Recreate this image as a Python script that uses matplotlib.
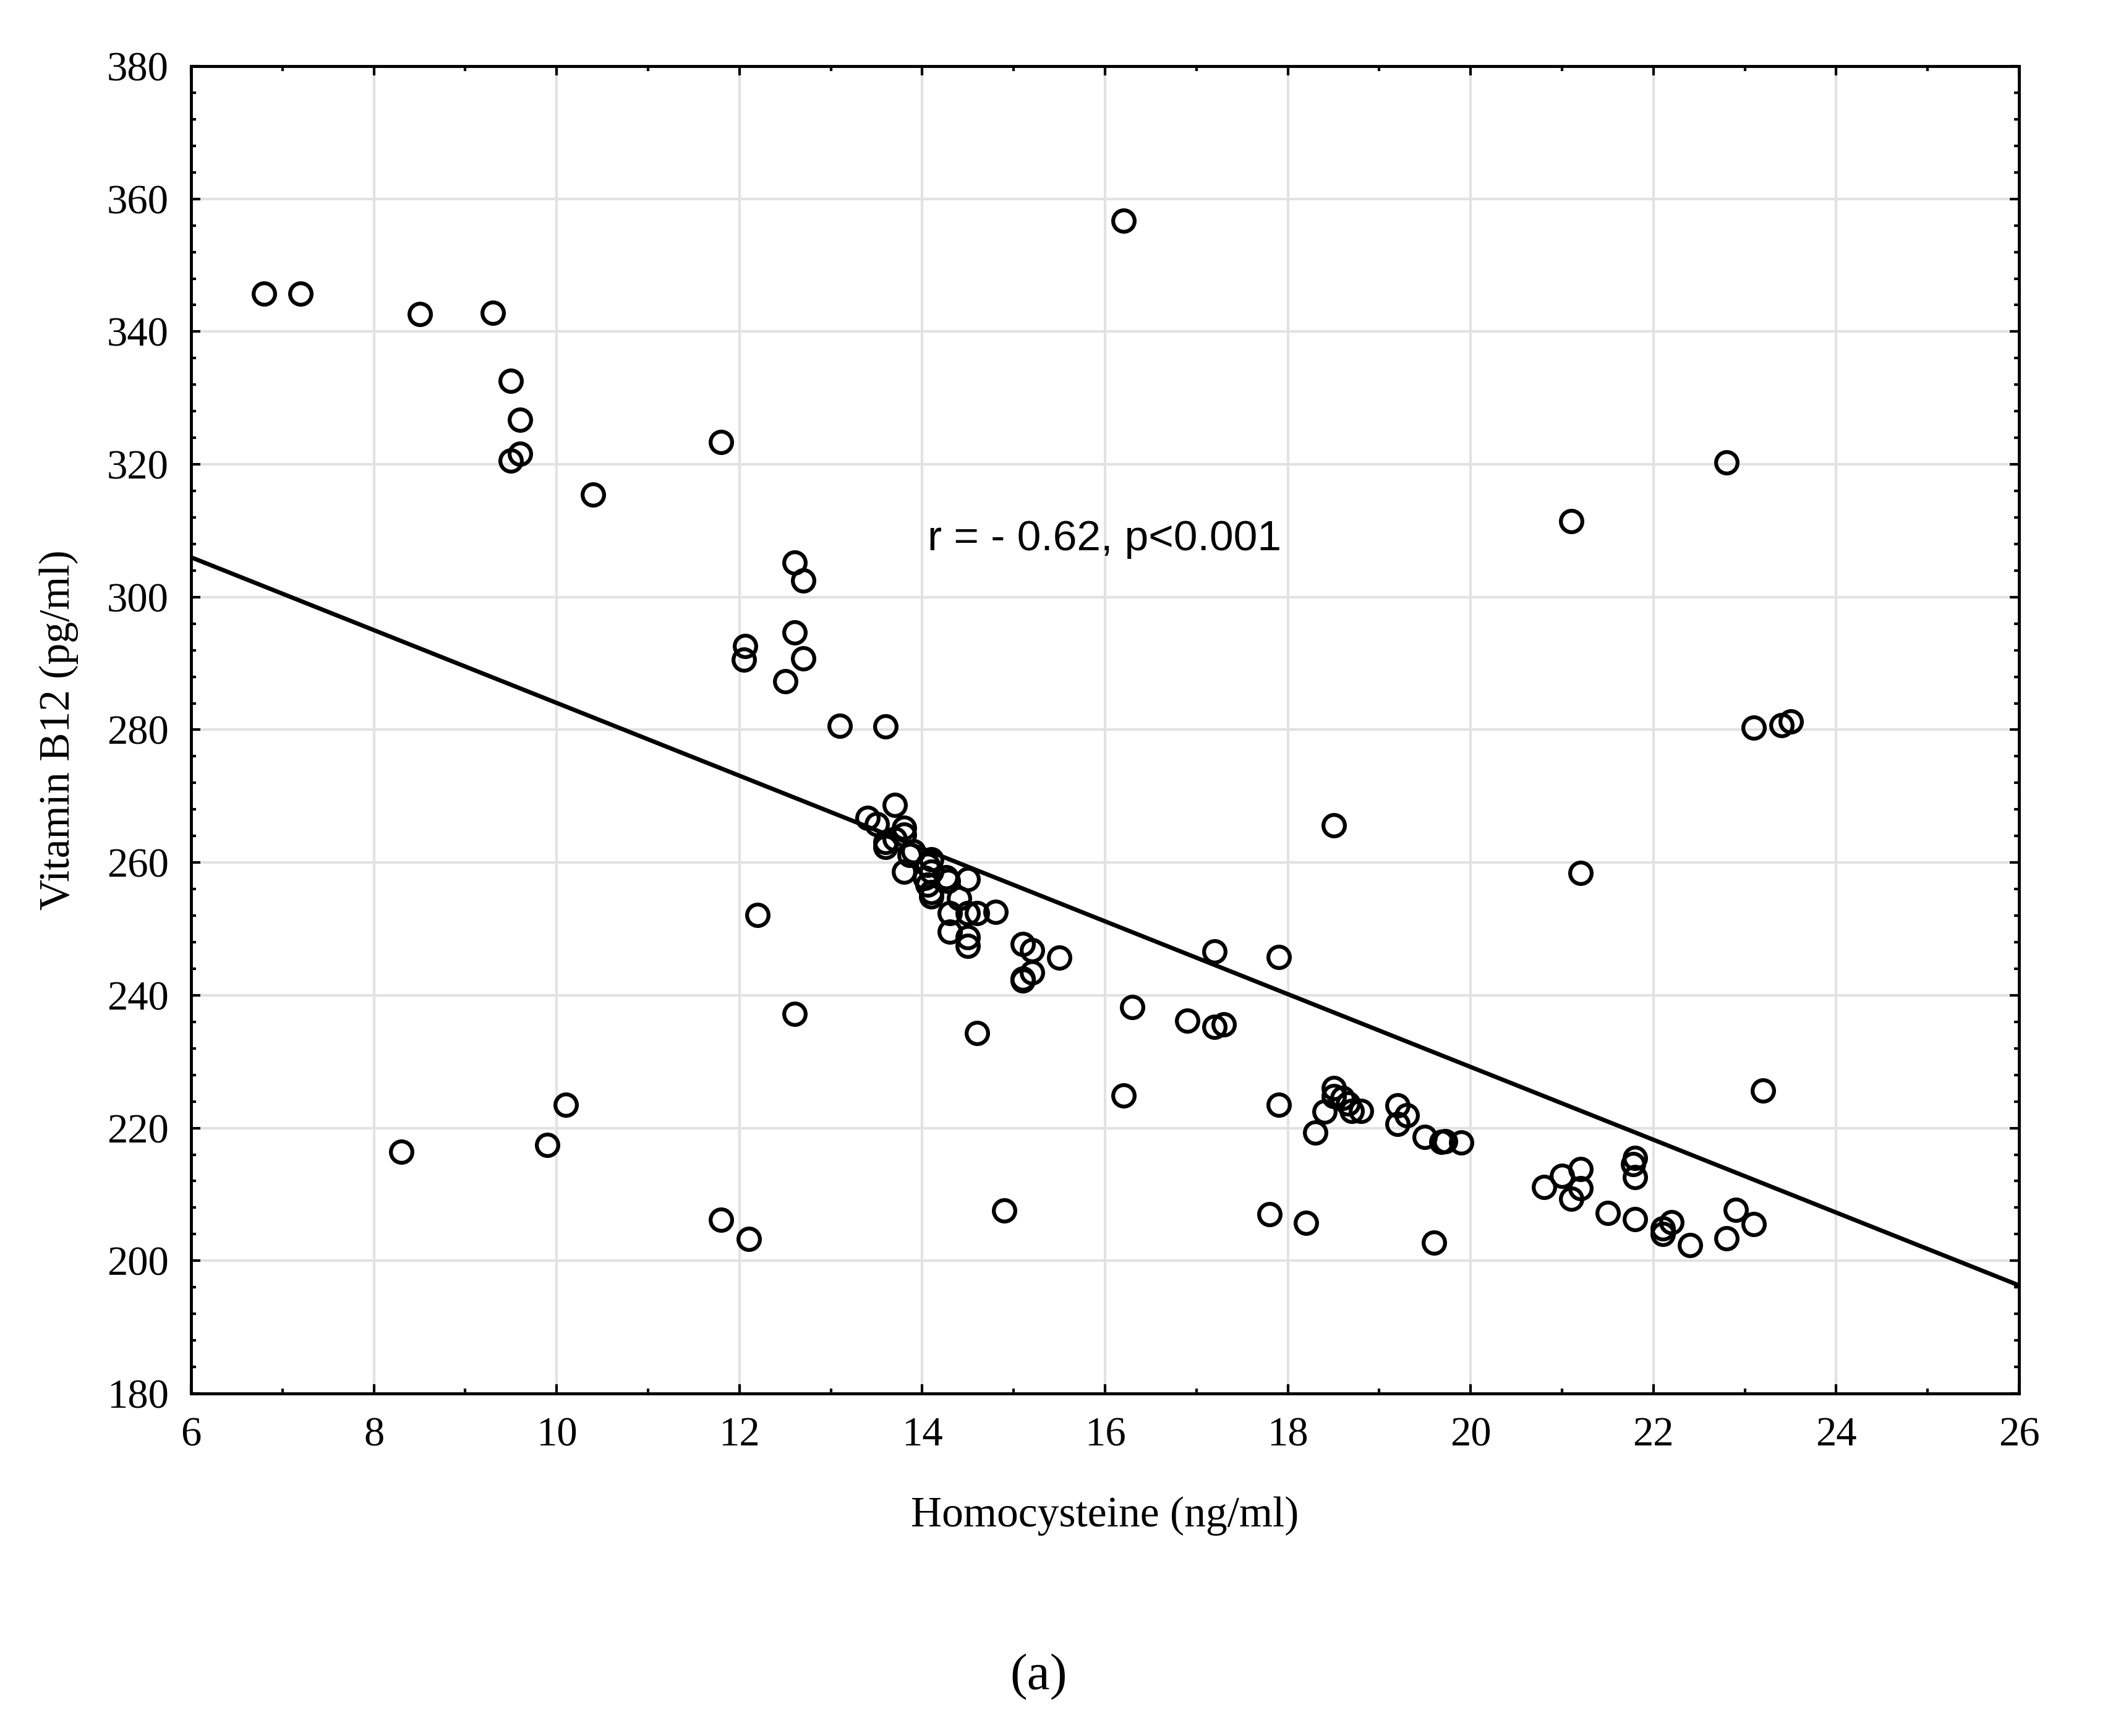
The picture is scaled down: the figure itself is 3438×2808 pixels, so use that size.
import numpy as np
import matplotlib
matplotlib.use("Agg")
import matplotlib.pyplot as plt
from matplotlib.ticker import MultipleLocator

# ==========================
# data
# ==========================

homocysteine = [
    6.8, 7.2, 8.5, 9.3, 9.5, 9.6, 9.6, 9.5, 10.4, 11.8,
    16.2, 22.8, 21.1, 12.6, 12.7, 12.6, 12.06, 12.05, 12.7, 12.5,
    13.1, 13.6, 23.1, 23.4, 23.5, 13.7, 13.4, 13.5, 13.8, 13.8,
    13.6, 13.7, 13.6, 13.86, 13.9, 13.8, 14.1, 14.06, 14.1, 14.03,
    14.06, 14.1, 14.1, 14.26, 14.28, 14.5, 14.4, 14.3, 14.5, 14.6,
    14.8, 14.3, 14.5, 14.5, 15.1, 15.2, 15.5, 15.2, 15.1, 15.1,
    18.5, 21.2, 12.2, 12.6, 14.6, 16.3, 16.9, 17.2, 17.3, 17.2,
    17.9, 16.2, 17.9, 18.3, 18.4, 18.5, 18.5, 18.6, 18.66, 18.7,
    18.8, 19.2, 19.3, 19.2, 19.5, 19.68, 19.72, 19.9, 17.8, 18.2,
    19.6, 14.9, 11.8, 12.1, 8.3, 9.9, 10.1, 20.8, 21.0, 21.2,
    21.2, 21.1, 21.8, 21.78, 21.8, 21.5, 21.8, 22.1, 22.2, 22.1,
    22.4, 22.9, 23.1, 22.8, 23.2,
]

vitamin_b12 = [
    345.7, 345.7, 342.6, 342.8, 332.6, 326.7, 321.6, 320.6, 315.4, 323.4,
    356.7, 320.3, 311.4, 305.2, 302.5, 294.7, 292.6, 290.6, 290.8, 287.3,
    280.6, 280.5, 280.3, 280.7, 281.3, 268.7, 266.7, 265.8, 265.2, 264.2,
    263.1, 263.6, 262.3, 261.1, 261.7, 258.6, 260.5, 259.6, 258.6, 257.7,
    256.7, 255.5, 254.9, 257.8, 257.2, 257.5, 254.6, 252.4, 252.4, 252.4,
    252.6, 249.6, 248.7, 247.4, 247.7, 246.8, 245.7, 243.4, 242.5, 242.2,
    265.6, 258.4, 252.1, 237.2, 234.3, 238.2, 236.2, 235.2, 235.6, 246.6,
    245.8, 224.9, 223.5, 219.3, 222.5, 226.0, 224.8, 224.5, 223.7, 222.6,
    222.6, 223.4, 221.9, 220.6, 218.7, 217.9, 218.0, 217.8, 207.0, 205.7,
    202.7, 207.6, 206.2, 203.3, 216.4, 217.4, 223.5, 211.1, 212.8, 213.8,
    210.9, 209.3, 215.5, 214.6, 212.6, 207.2, 206.3, 204.9, 205.8, 204.0,
    202.4, 207.7, 205.5, 203.4, 225.6,
]

# regression line as drawn
fit_slope = -5.485
fit_intercept = 338.9

annotation = "r = - 0.62, p<0.001"

# ==========================
# figure
# ==========================

plt.rcParams["font.family"] = ["Liberation Serif", "DejaVu Serif"]

fig = plt.figure(figsize=(34.38, 28.08), dpi=100)
ax = fig.add_axes([0.0899, 0.1973, 0.8598, 0.7646])

ax.set_xlim(6, 26)
ax.set_ylim(180, 380)

ax.xaxis.set_major_locator(MultipleLocator(2))
ax.xaxis.set_minor_locator(MultipleLocator(1))
ax.yaxis.set_major_locator(MultipleLocator(20))
ax.yaxis.set_minor_locator(MultipleLocator(4))

ax.grid(True, which="major", color="#e2e2e2", linewidth=3)
ax.set_axisbelow(True)

line_x = np.array(ax.get_xlim())
ax.plot(line_x, fit_intercept + fit_slope * line_x,
        color="black", linewidth=5, zorder=3)

ax.plot(homocysteine, vitamin_b12,
        linestyle="none", marker="o", markersize=25,
        markerfacecolor="none", markeredgecolor="black",
        markeredgewidth=4.5, zorder=4)

ax.text(14.06, 308.7, annotation, family=["Liberation Sans", "DejaVu Sans"],
        fontsize=50, ha="left", va="center", zorder=5)

for s in ax.spines.values():
    s.set_linewidth(3.5)

ax.tick_params(which="both", direction="in", top=True, right=True,
               width=3, labelsize=48, colors="black")
ax.tick_params(which="major", length=11)
ax.tick_params(which="minor", length=6)
ax.tick_params(axis="x", pad=27)
ax.tick_params(axis="y", pad=26)

ax.set_xlabel("Homocysteine (ng/ml)", fontsize=50)
ax.xaxis.set_label_coords(0.5, -0.0925)
ax.xaxis.label.set_va("center")

ax.set_ylabel("Vitamin B12 (pg/ml)", fontsize=50)
ax.yaxis.set_label_coords(-0.0724, 0.5)
ax.yaxis.label.set_va("center")

fig.text(0.4886, 0.034, "(a)", fontsize=60, ha="center", va="center")

fig.savefig("out.png", dpi=100, facecolor="white")
